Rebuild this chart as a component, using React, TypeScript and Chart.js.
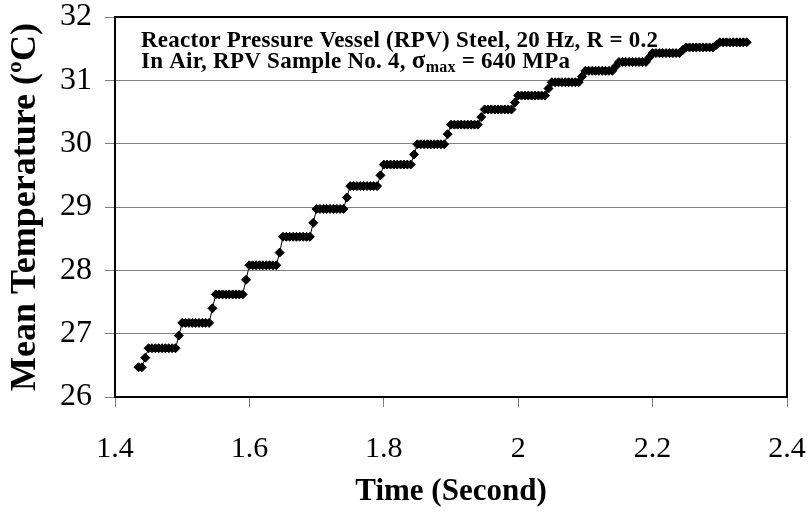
import React, { useEffect, useRef } from "react";
import { Chart, registerables } from "chart.js";

Chart.register(...registerables);

// Time (s), sampled every 0.005 s
const times: number[] = [
  1.435, 1.44, 1.445,
  1.45, 1.455, 1.46, 1.465, 1.47, 1.475, 1.48, 1.485, 1.49, 1.495,
  1.5, 1.505, 1.51, 1.515, 1.52, 1.525, 1.53, 1.535, 1.54, 1.545,
  1.55, 1.555, 1.56, 1.565, 1.57, 1.575, 1.58, 1.585, 1.59, 1.595,
  1.6, 1.605, 1.61, 1.615, 1.62, 1.625, 1.63, 1.635, 1.64, 1.645,
  1.65, 1.655, 1.66, 1.665, 1.67, 1.675, 1.68, 1.685, 1.69, 1.695,
  1.7, 1.705, 1.71, 1.715, 1.72, 1.725, 1.73, 1.735, 1.74, 1.745,
  1.75, 1.755, 1.76, 1.765, 1.77, 1.775, 1.78, 1.785, 1.79, 1.795,
  1.8, 1.805, 1.81, 1.815, 1.82, 1.825, 1.83, 1.835, 1.84, 1.845,
  1.85, 1.855, 1.86, 1.865, 1.87, 1.875, 1.88, 1.885, 1.89, 1.895,
  1.9, 1.905, 1.91, 1.915, 1.92, 1.925, 1.93, 1.935, 1.94, 1.945,
  1.95, 1.955, 1.96, 1.965, 1.97, 1.975, 1.98, 1.985, 1.99, 1.995,
  2.0, 2.005, 2.01, 2.015, 2.02, 2.025, 2.03, 2.035, 2.04, 2.045,
  2.05, 2.055, 2.06, 2.065, 2.07, 2.075, 2.08, 2.085, 2.09, 2.095,
  2.1, 2.105, 2.11, 2.115, 2.12, 2.125, 2.13, 2.135, 2.14, 2.145,
  2.15, 2.155, 2.16, 2.165, 2.17, 2.175, 2.18, 2.185, 2.19, 2.195,
  2.2, 2.205, 2.21, 2.215, 2.22, 2.225, 2.23, 2.235, 2.24, 2.245,
  2.25, 2.255, 2.26, 2.265, 2.27, 2.275, 2.28, 2.285, 2.29, 2.295,
  2.3, 2.305, 2.31, 2.315, 2.32, 2.325, 2.33, 2.335, 2.34,
];

// Mean temperature (°C)
const temps: number[] = [
  26.47, 26.47, 26.62,
  26.77, 26.77, 26.77, 26.77, 26.77, 26.77, 26.77, 26.77, 26.77, 26.97,
  27.17, 27.17, 27.17, 27.17, 27.17, 27.17, 27.17, 27.17, 27.17, 27.4,
  27.62, 27.62, 27.62, 27.62, 27.62, 27.62, 27.62, 27.62, 27.62, 27.85,
  28.08, 28.08, 28.08, 28.08, 28.08, 28.08, 28.08, 28.08, 28.08, 28.28,
  28.53, 28.53, 28.53, 28.53, 28.53, 28.53, 28.53, 28.53, 28.53, 28.75,
  28.97, 28.97, 28.97, 28.97, 28.97, 28.97, 28.97, 28.97, 28.97, 29.15,
  29.33, 29.33, 29.33, 29.33, 29.33, 29.33, 29.33, 29.33, 29.33, 29.5,
  29.67, 29.67, 29.67, 29.67, 29.67, 29.67, 29.67, 29.67, 29.67, 29.83,
  29.99, 29.99, 29.99, 29.99, 29.99, 29.99, 29.99, 29.99, 29.99, 30.15,
  30.3, 30.3, 30.3, 30.3, 30.3, 30.3, 30.3, 30.3, 30.3, 30.42,
  30.54, 30.54, 30.54, 30.54, 30.54, 30.54, 30.54, 30.54, 30.54, 30.65,
  30.76, 30.76, 30.76, 30.76, 30.76, 30.76, 30.76, 30.76, 30.76, 30.87,
  30.97, 30.97, 30.97, 30.97, 30.97, 30.97, 30.97, 30.97, 30.97, 31.06,
  31.15, 31.15, 31.15, 31.15, 31.15, 31.15, 31.15, 31.15, 31.15, 31.22,
  31.29, 31.29, 31.29, 31.29, 31.29, 31.29, 31.29, 31.29, 31.29, 31.36,
  31.43, 31.43, 31.43, 31.43, 31.43, 31.43, 31.43, 31.43, 31.43, 31.48,
  31.52, 31.52, 31.52, 31.52, 31.52, 31.52, 31.52, 31.52, 31.52, 31.56,
  31.6, 31.6, 31.6, 31.6, 31.6, 31.6, 31.6, 31.6, 31.6,
];

const xTicks: number[] = [1.4, 1.6, 1.8, 2.0, 2.2, 2.4];
const yTicks: number[] = [26, 27, 28, 29, 30, 31, 32];

const xTitle = "Time (Second)";
const yTitle = "Mean Temperature (\u00BAC)";
const noteLine1 = "Reactor Pressure Vessel (RPV) Steel, 20 Hz, R = 0.2";
const noteLine2a = "In Air, RPV Sample No. 4, ";
const noteSigma = "\u03C3";
const noteSub = "max";
const noteLine2b = " = 640 MPa";

const FONT = '"Liberation Serif", "Times New Roman", serif';

const frameAndNote = {
  id: "frameAndNote",
  afterDraw(chart: any) {
    const { ctx, chartArea } = chart;
    ctx.save();
    ctx.strokeStyle = "#000";
    ctx.lineWidth = 2;
    ctx.strokeRect(chartArea.left, chartArea.top, chartArea.right - chartArea.left, chartArea.bottom - chartArea.top);

    ctx.fillStyle = "#000";
    ctx.textAlign = "left";
    ctx.textBaseline = "alphabetic";
    try {
      (ctx as any).letterSpacing = "0.25px";
    } catch (e) {}
    const x0 = chartArea.left + 26;
    ctx.font = `bold 23px ${FONT}`;
    ctx.fillText(noteLine1, x0, chartArea.top + 30);
    let x = x0;
    const y2 = chartArea.top + 51;
    ctx.fillText(noteLine2a, x, y2);
    x += ctx.measureText(noteLine2a).width;
    ctx.font = `bold 25px ${FONT}`;
    ctx.fillText(noteSigma, x, y2);
    x += ctx.measureText(noteSigma).width;
    ctx.font = `bold 16px ${FONT}`;
    ctx.fillText(noteSub, x, y2 + 4);
    x += ctx.measureText(noteSub).width;
    ctx.font = `bold 23px ${FONT}`;
    ctx.fillText(noteLine2b, x, y2);
    ctx.restore();
  },
};

export default function App() {
  const ref = useRef<HTMLCanvasElement | null>(null);

  useEffect(() => {
    if (!ref.current) return;
    const points = times.map((t, i) => ({ x: t, y: temps[i] }));
    const chart = new Chart(ref.current, {
      type: "line",
      data: {
        datasets: [
          {
            data: points,
            borderColor: "#000",
            backgroundColor: "#000",
            borderWidth: 1,
            pointStyle: "rectRot",
            pointRadius: 4.5,
            pointBackgroundColor: "#000",
            pointBorderColor: "#000",
            pointBorderWidth: 1,
            tension: 0,
          },
        ],
      },
      options: {
        responsive: false,
        animation: false,
        devicePixelRatio: 1,
        layout: { padding: { top: 17, right: 23, left: 0, bottom: 0 } },
        plugins: { legend: { display: false }, tooltip: { enabled: false }, title: { display: false } },
        scales: {
          x: {
            type: "linear",
            min: 1.4,
            max: 2.4,
            afterBuildTicks: (scale: any) => {
              scale.ticks = xTicks.map((v) => ({ value: v }));
            },
            afterFit: (scale: any) => {
              scale.height = 115;
              scale.paddingLeft = 0;
              scale.paddingRight = 0;
              scale.paddingTop = 0;
              scale.paddingBottom = 0;
            },
            grid: {
              drawOnChartArea: false,
              drawTicks: true,
              tickLength: 10,
              color: "#808080",
              lineWidth: 1,
            },
            border: { display: false },
            ticks: {
              color: "#000",
              font: { family: FONT, size: 30 },
              padding: 24,
              maxRotation: 0,
              autoSkip: false,
              callback: (v: any) => String(Number(Number(v).toFixed(1))),
            },
            title: {
              display: true,
              text: xTitle,
              color: "#000",
              font: { family: FONT, size: 31, weight: "bold" },
              padding: { top: 0, bottom: 1 },
            },
          },
          y: {
            type: "linear",
            min: 26,
            max: 32,
            afterBuildTicks: (scale: any) => {
              scale.ticks = yTicks.map((v) => ({ value: v }));
            },
            afterFit: (scale: any) => {
              scale.width = 115;
              scale.paddingLeft = 0;
              scale.paddingRight = 0;
              scale.paddingTop = 0;
              scale.paddingBottom = 0;
            },
            grid: {
              drawOnChartArea: true,
              drawTicks: true,
              tickLength: 10,
              color: "#808080",
              lineWidth: 1,
            },
            border: { display: false },
            ticks: {
              color: "#000",
              font: { family: FONT, size: 32 },
              padding: 13,
              autoSkip: false,
              callback: (v: any) => String(v),
            },
            title: {
              display: true,
              text: yTitle,
              color: "#000",
              font: { family: FONT, size: 36, weight: "bold" },
              padding: { top: 4, bottom: 0 },
            },
          },
        },
      },
      plugins: [frameAndNote],
    });
    return () => chart.destroy();
  }, []);

  return (
    <div style={{ position: "absolute", left: 0, top: 0, width: 810, height: 512, background: "#fff" }}>
      <canvas ref={ref} width={810} height={512} style={{ display: "block" }} />
    </div>
  );
}
